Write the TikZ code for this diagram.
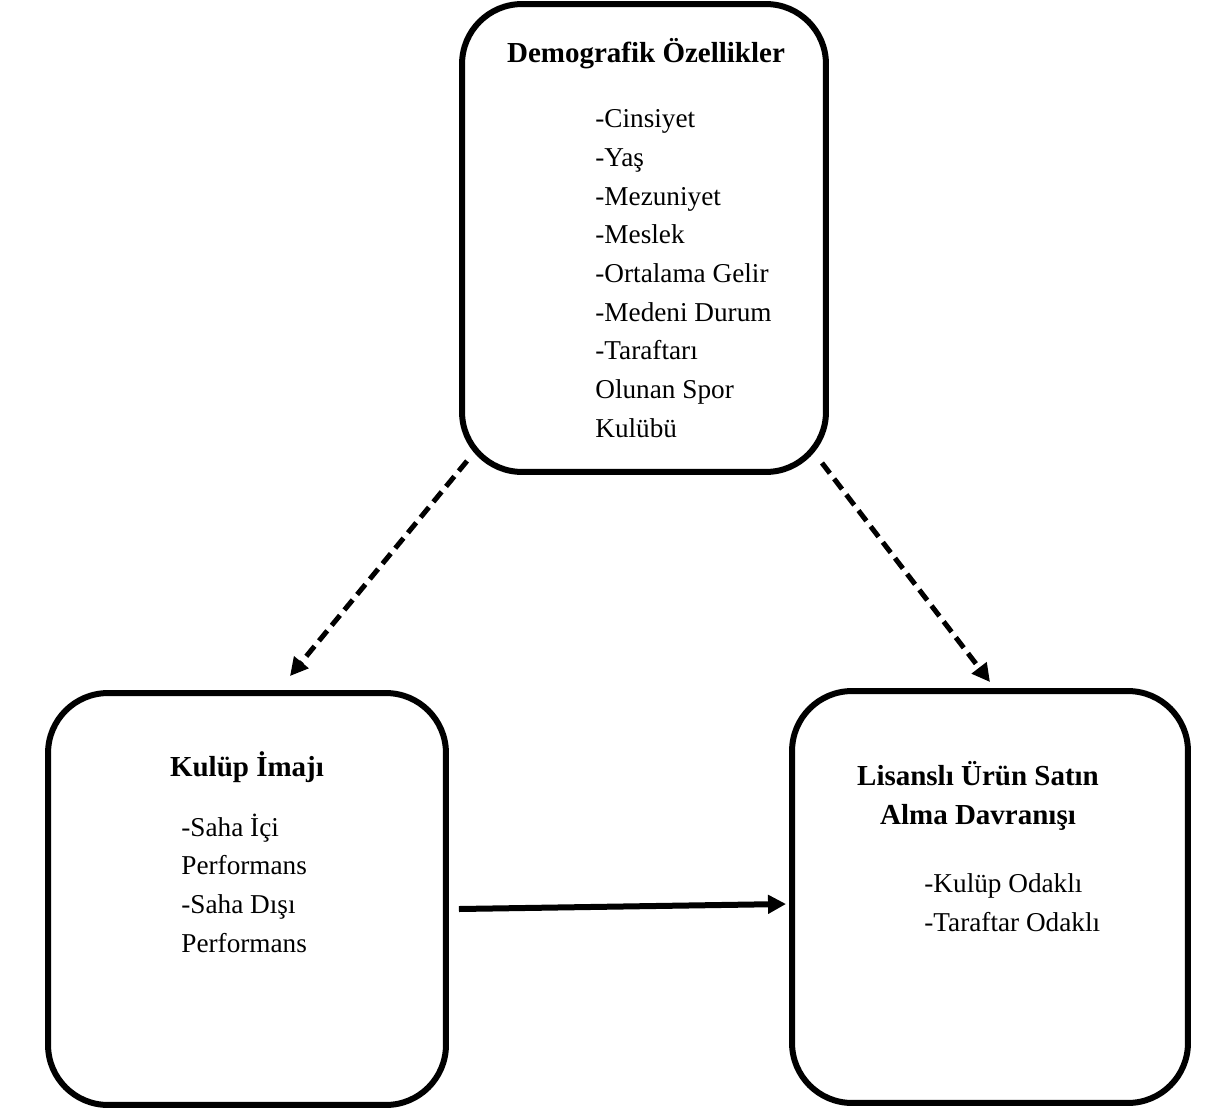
\documentclass[tikz,border=0pt]{standalone}
\usepackage{fontspec}
\setmainfont{Liberation Serif}
\usetikzlibrary{positioning,arrows.meta,calc}
\definecolor{cLine}{HTML}{000000}
\tikzset{
  box/.style={rounded corners=1.2cm,draw=cLine,line width=0.12cm,inner sep=0pt},
  ttl/.style={font=\fontsize{16.5}{22}\selectfont\bfseries,inner sep=0pt,align=center},
  lst/.style={font=\fontsize{15.5}{22}\selectfont,inner sep=0pt,align=left},
  edge/.style={-{Triangle[length=0.36cm,width=0.36cm]},line width=0.12cm,draw=cLine},
  dedge/.style={edge,line width=0.1cm,dash pattern=on 0.26cm off 0.14cm},
}
\begin{document}
\begin{tikzpicture}[x=0.02cm,y=-0.02cm]
  \useasboundingbox (0,0) rectangle (1206,1115);
  \node[box,minimum width=7.28cm,minimum height=9.36cm] (demo) at (644,238) {};
  \node[box,minimum width=7.96cm,minimum height=8.24cm] (kulup) at (247,899) {};
  \node[box,minimum width=7.92cm,minimum height=8.24cm] (lisans) at (990,897) {};
  % box texts (base of a multi-line node = its last line)
  \node[ttl,below=1.22cm of demo.north,anchor=base,xshift=0.04cm] (demottl) {Demografik Özellikler};
  \node[lst,anchor=base west] (demolst) at ($(demo.north west)+(136,436)$) {-Cinsiyet\\-Yaş\\-Mezuniyet\\-Meslek\\-Ortalama Gelir\\-Medeni Durum\\-Taraftarı\\Olunan Spor\\Kulübü};
  \node[ttl,below=1.72cm of kulup.north,anchor=base] (kulupttl) {Kulüp İmajı};
  \node[lst,anchor=base west] (kuluplst) at ($(kulup.north west)+(136,262)$) {-Saha İçi\\Performans\\-Saha Dışı\\Performans};
  \node[ttl,below=2.72cm of lisans.north,anchor=base,xshift=-0.24cm] (lisansttl) {Lisanslı Ürün Satın\\Alma Davranışı};
  \node[lst,anchor=base west] (lisanslst) at ($(lisans.north west)+(135,243)$) {-Kulüp Odaklı\\-Taraftar Odaklı};
  % connectors
  \draw[dedge] ($(demo.south west)+(8,-14)$) -- ($(kulup.north)+(43,-14)$);
  \draw[dedge] ($(demo.south east)+(-7,-12)$) -- ($(lisans.north)+(0,-6)$);
  \draw[edge] ($(kulup.east)+(10,10)$) -- ($(lisans.west)+(-3,7)$);
\end{tikzpicture}
\end{document}
